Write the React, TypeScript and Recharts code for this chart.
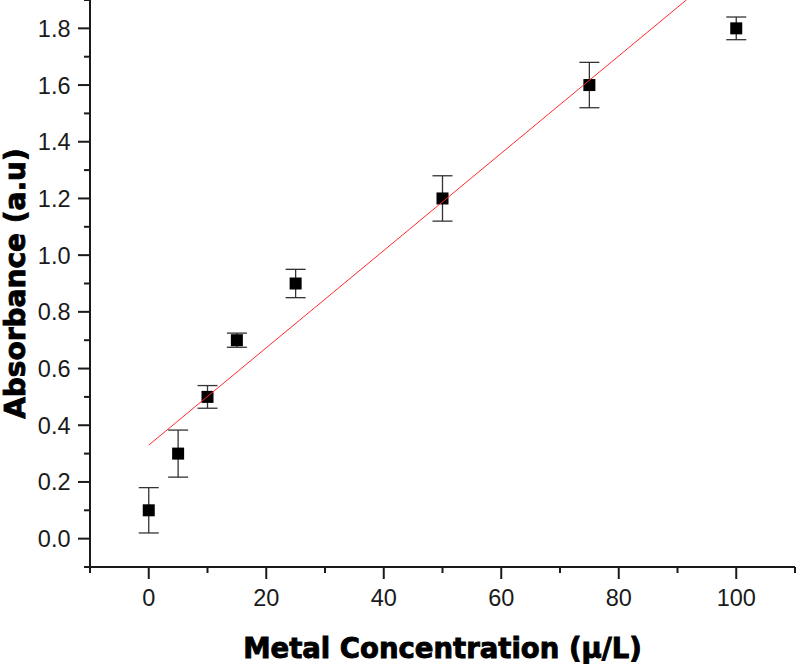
import React from "react";
import { ScatterChart, Scatter, XAxis, YAxis, ErrorBar } from "recharts";

const points = [
  { x: 0, y: 0.1, err: 0.08 },
  { x: 5, y: 0.3, err: 0.083 },
  { x: 10, y: 0.5, err: 0.04 },
  { x: 15, y: 0.7, err: 0.025 },
  { x: 25, y: 0.9, err: 0.05 },
  { x: 50, y: 1.2, err: 0.08 },
  { x: 75, y: 1.6, err: 0.08 },
  { x: 100, y: 1.8, err: 0.04 },
];

// linear fit, clipped where it leaves the top of the frame
const fitLine = [
  { x: 0, y: 0.33 },
  { x: 91.5, y: 1.9 },
];

const xTicks = [-10, 0, 10, 20, 30, 40, 50, 60, 70, 80, 90, 100, 110];
const xLabels = [0, 20, 40, 60, 80, 100];
const yTicks = [
  -0.1, 0, 0.1, 0.2, 0.3, 0.4, 0.5, 0.6, 0.7, 0.8, 0.9, 1.0, 1.1, 1.2, 1.3,
  1.4, 1.5, 1.6, 1.7, 1.8, 1.9,
];
const yLabels = [0, 0.2, 0.4, 0.6, 0.8, 1.0, 1.2, 1.4, 1.6, 1.8];

const ink = "#1a1a1a";
const tickFont = "'Liberation Sans', Arial, sans-serif";
const titleFont = "'DejaVu Sans', sans-serif";

const XTick = (props: any) => {
  const { x, y, payload } = props;
  const major = xLabels.includes(payload.value);
  return (
    <g>
      <line x1={x} x2={x} y1={y} y2={y + (major ? 12 : 6)} stroke={ink} strokeWidth={2} />
      {major && (
        <text x={x} y={y + 39} textAnchor="middle" fontSize={23.5} fontFamily={tickFont} fill={ink}>
          {payload.value}
        </text>
      )}
    </g>
  );
};

const YTick = (props: any) => {
  const { x, y, payload } = props;
  const major = yLabels.some((v) => Math.abs(v - payload.value) < 1e-6);
  return (
    <g>
      <line x1={x - (major ? 12 : 6)} x2={x} y1={y} y2={y} stroke={ink} strokeWidth={2} />
      {major && (
        <text x={x - 19.5} y={y + 8.5} textAnchor="end" fontSize={23.5} fontFamily={tickFont} fill={ink}>
          {payload.value.toFixed(1)}
        </text>
      )}
    </g>
  );
};

const XTitle = (props: any) => {
  const { x, y, width } = props.viewBox;
  return (
    <text x={x + width / 2} y={y + 91} textAnchor="middle" fontSize={27.5} fontWeight="bold" fontFamily={titleFont} fill="#000" stroke="#000" strokeWidth={0.9}>
      Metal Concentration (µ/L)
    </text>
  );
};

const YTitle = (props: any) => {
  const { y, height } = props.viewBox;
  const cx = 25;
  const cy = y + height / 2;
  return (
    <text x={cx} y={cy} transform={`rotate(-90, ${cx}, ${cy})`} textAnchor="middle" fontSize={28} fontWeight="bold" fontFamily={titleFont} fill="#000" stroke="#000" strokeWidth={0.9}>
      Absorbance (a.u)
    </text>
  );
};

const Square = (props: any) => {
  const { cx, cy } = props;
  return <rect x={cx - 6} y={cy - 6} width={12} height={12} fill="#000" />;
};

export default function App() {
  return (
    <div style={{ position: "absolute", left: 0, top: 0, background: "#fff" }}>
      <ScatterChart width={797} height={664} margin={{ top: 0, right: 2, bottom: 0, left: 0 }}>
        <XAxis
          type="number"
          dataKey="x"
          domain={[-10, 110]}
          ticks={xTicks}
          interval={0}
          tick={<XTick />}
          tickLine={false}
          tickSize={0}
          tickMargin={0}
          height={97}
          axisLine={{ stroke: ink, strokeWidth: 2 }}
          allowDataOverflow
          label={<XTitle />}
        />
        <YAxis
          type="number"
          dataKey="y"
          domain={[-0.1, 1.9]}
          ticks={yTicks}
          interval={0}
          tick={<YTick />}
          tickLine={false}
          tickSize={0}
          tickMargin={0}
          width={90}
          axisLine={{ stroke: ink, strokeWidth: 2 }}
          allowDataOverflow
          label={<YTitle />}
        />
        <Scatter data={points} shape={<Square />} isAnimationActive={false}>
          <ErrorBar dataKey="err" direction="y" width={10} stroke="#333" strokeWidth={1.3} />
        </Scatter>
        <Scatter
          data={fitLine}
          line={{ stroke: "#ff2a2a", strokeWidth: 1 }}
          shape={() => null}
          isAnimationActive={false}
        />
      </ScatterChart>
    </div>
  );
}
